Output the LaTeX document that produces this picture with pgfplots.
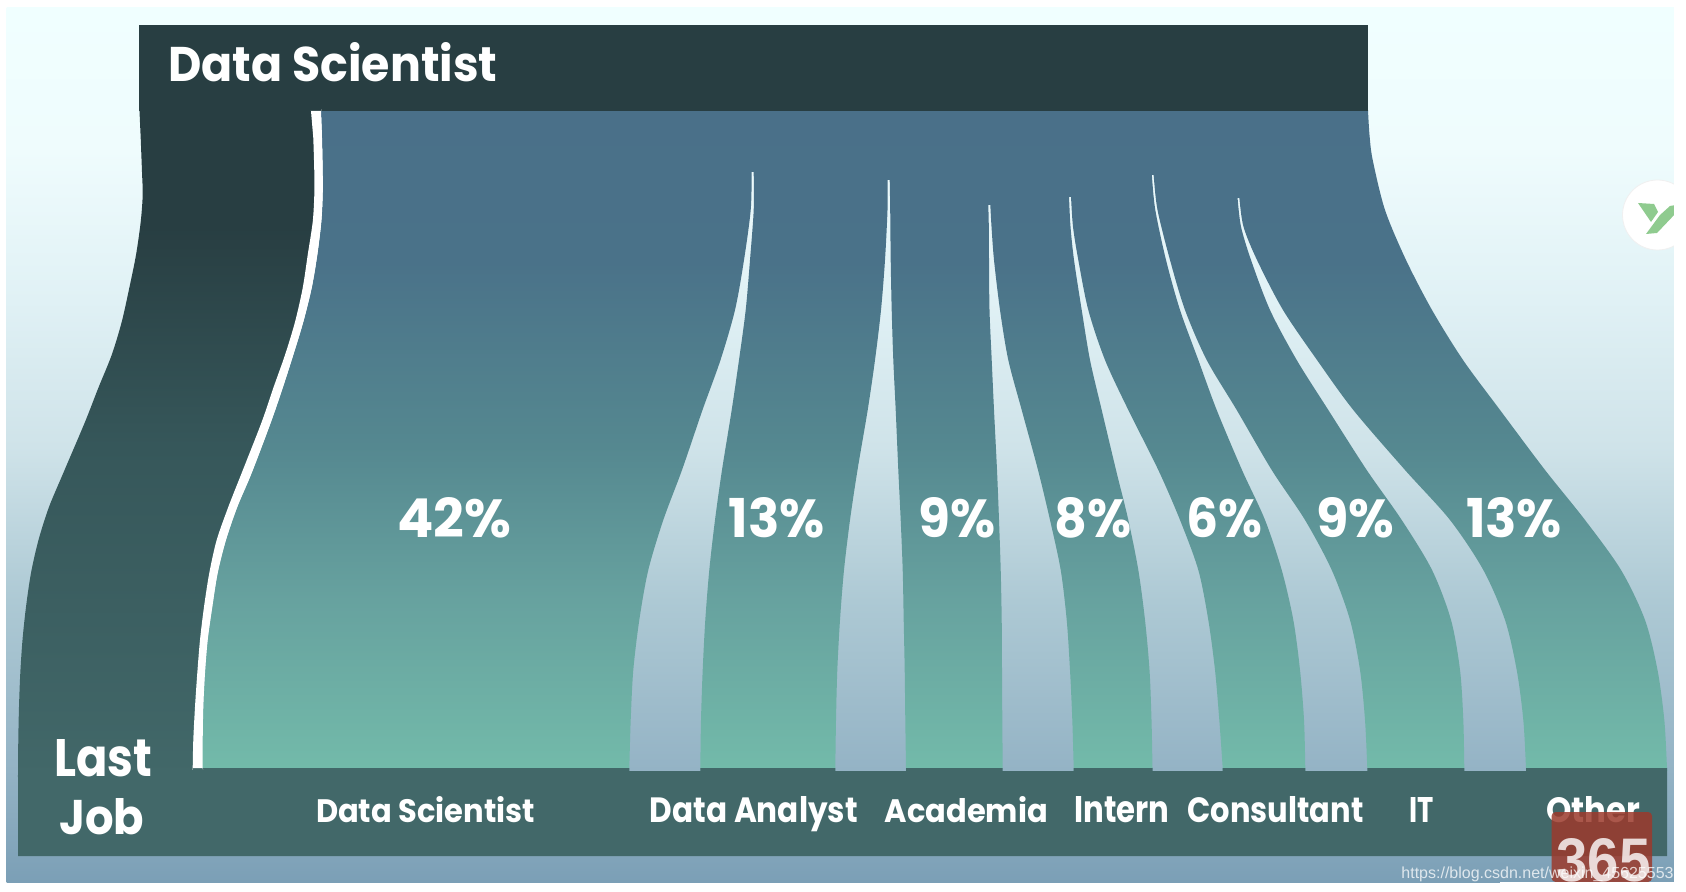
\documentclass[border=0pt]{standalone}
\usepackage{pgfplots}
\pgfplotsset{compat=1.18}
\usepackage{fontspec}
\setmainfont{Poppins}
\newfontfamily\urlfont{Liberation Sans}
\definecolor{bandtop}{HTML}{283E42}
\definecolor{bandlow}{HTML}{426869}
\definecolor{ygreen}{HTML}{8FCB8F}
\definecolor{wm}{HTML}{9C3A2C}
\definecolor{b0}{HTML}{7B9FB6}\definecolor{b1}{HTML}{94B3C5}\definecolor{b2}{HTML}{ADC9D4}
\definecolor{b3}{HTML}{CFE3E9}\definecolor{b4}{HTML}{E0F1F5}\definecolor{b5}{HTML}{EFFCFD}\definecolor{b6}{HTML}{F0FFFF}
\pgfdeclareverticalshading{bgshade}{100bp}{color(0bp)=(b0);color(25bp)=(b0);color(31.4bp)=(b1);color(41.1bp)=(b2);color(49.9bp)=(b3);color(58.3bp)=(b4);color(66.9bp)=(b5);color(75bp)=(b6);color(100bp)=(b6)}
\definecolor{m0}{HTML}{73BBAA}\definecolor{m1}{HTML}{67A29F}\definecolor{m2}{HTML}{558890}\definecolor{m3}{HTML}{4A7289}\definecolor{m4}{HTML}{4A7089}
\pgfdeclareverticalshading{mainshade}{100bp}{color(0bp)=(m0);color(25bp)=(m0);color(38.1bp)=(m1);color(49.6bp)=(m2);color(63.5bp)=(m3);color(75bp)=(m4);color(100bp)=(m4)}
\definecolor{d0}{HTML}{426869}\definecolor{d1}{HTML}{36575A}\definecolor{d2}{HTML}{283E42}
\pgfdeclareverticalshading{darkshade}{100bp}{color(0bp)=(d0);color(25bp)=(d0);color(49.4bp)=(d1);color(65.4bp)=(d2);color(75bp)=(d2);color(100bp)=(d2)}
\newcommand{\lab}[5]{\node[anchor=base west,inner sep=0pt,text=white] at (axis cs:#1,#2) {\resizebox{#3pt}{#4pt}{\bfseries #5}};}
\begin{document}
\begin{tikzpicture}
\path[use as bounding box,clip] (0,0) rectangle (843pt,446pt);
\begin{axis}[hide axis,scale only axis,width=843pt,height=446pt,xmin=0,xmax=1686,ymin=0,ymax=892,y dir=reverse,clip=false,tension=0.5]
% background
\addplot[draw=none,shading=bgshade,shade] coordinates {(6.5,8)(1674,8)(1674,882)(6.5,882)} --cycle;
% dark last-job flow
\addplot[draw=none,shading=darkshade,shade,smooth] coordinates {
(139,100)(139,100)(141,100)(150,100)(230,100)(305,100)(314,100)(316,100)(316,100)(318,138)(318.5,172)(318.5,195)(317,222)(312.5,255)(307,288)(299,322)(289,355)(278,388)(266,422)(246.7,473)(232.8,507)(221.3,540)(213.5,573)(208,607)(203.8,640)(201,673)(199,707)(198,740)(197.7,768)(197.7,775)(197.7,775)(190,775)(100,775)(30,775)(22,775)(19,775)(18,775)(18,775)(18.3,740)(19,707)(20.3,673)(22.5,640)(26,607)(31,573)(38.5,540)(49,507)(63.3,473)(85,422)(98.3,388)(111.7,355)(121.7,322)(129.3,288)(136,255)(140.7,222)(142.7,195)(142,172)(140.7,138)} --cycle;
% main destination flow, wedges are gaps showing the background
\addplot[draw=none,shading=mainshade,shade,smooth] coordinates {
(321,111)(321,111)(322,111)(325,111)(335,111)(370,111)(500,111)(900,111)(1240,111)(1355,111)(1365,111)(1367,111)(1368,111)(1368,111)(1369.5,135)(1372.7,160)(1385,210)(1406,260)(1432,310)(1463,360)(1500,410)(1545,470)(1585,520)(1621,570)(1645,620)(1657.5,670)(1664.3,720)(1667,768)(1667,768)(1665,768)(1652,768)(1600,768)(1540,768)(1528,768)(1526,768)(1526,768)
(1523.3,720)(1516.7,670)(1505,620)(1483.3,570)(1450,520)(1405,470)(1353.3,410)(1317,360)(1283,310)(1257,260)(1243.5,226.7)(1239.3,198)(1239.3,198)(1237.5,198)(1237.5,198)(1241,226.7)(1251,260)(1270,310)(1296.7,360)(1328.3,410)(1366.7,470)(1401.7,520)(1432,570)(1451,620)(1460,670)(1463.3,720)(1464.3,768)(1464.3,768)(1462,768)(1450,768)(1380,768)(1369,768)(1367.3,768)(1367.3,768)
(1365,720)(1360,670)(1350,620)(1331.7,570)(1305,520)(1271.7,470)(1236.7,410)(1206.7,360)(1185,310)(1170,260)(1157.5,210)(1153.6,175)(1153.6,175)(1151.8,175)(1151.8,175)(1155.3,210)(1166,260)(1180,310)(1198.3,360)(1216.7,410)(1242,470)(1265,520)(1281.7,570)(1293.3,620)(1300,670)(1304,720)(1305.3,768)(1305.3,768)(1303,768)(1292,768)(1236,768)(1225,768)(1222.7,768)(1222.7,768)
(1219.3,720)(1215,670)(1208.3,620)(1198.3,570)(1180,520)(1158.3,470)(1128.3,410)(1105,360)(1088.3,310)(1078.3,260)(1073,226.7)(1071,197)(1071,197)(1069,197)(1069,197)(1070.5,226.7)(1074,260)(1081.7,310)(1090,360)(1101.7,410)(1116,470)(1128.3,520)(1138.3,570)(1145,620)(1149.5,670)(1151.5,720)(1152.5,768)(1152.5,768)(1150,768)(1140,768)(1085,768)(1076,768)(1073.7,768)(1073.7,768)
(1072.3,720)(1070,670)(1066.7,620)(1060.7,570)(1050,520)(1038,470)(1021.7,410)(1008.3,360)(1000,310)(994,260)(991.5,226.7)(990.3,205)(990.3,205)(988.3,205)(988.3,205)(988.8,226.7)(989,260)(989.5,310)(991.7,360)(994,410)(997,470)(999,520)(1000.7,570)(1001.7,620)(1002,670)(1002.3,720)(1002.7,768)(1002.7,768)(1001,768)(990,768)(920,768)(908,768)(906,768)(906,768)
(905.3,720)(904.7,670)(903.7,620)(902.7,570)(900.7,520)(898.3,470)(895.7,410)(893.3,360)(891.7,310)(890.7,260)(890.2,210)(889.7,180)(889.7,180)(887.7,180)(887.7,180)(887.5,210)(885,260)(881,310)(875,360)(867.7,410)(857.5,470)(850,520)(844,570)(840,620)(837.3,670)(836,720)(835.3,768)(835.3,768)(833,768)(820,768)(770,768)(715,768)(702,768)(700.3,768)(700.3,768)
(701,720)(702.7,670)(705.3,620)(709.3,570)(715,520)(722,470)(731.7,410)(739,360)(745.7,310)(750,260)(753.7,210)(753.7,172)(753.7,172)(751.7,172)(751.7,172)(750.7,210)(744,260)(735,310)(720.5,360)(702.5,410)(682,470)(663.3,520)(648.3,570)(639.3,620)(633.3,670)(630.7,720)(629.3,768)(629.3,768)(627,768)(615,768)(570,768)(400,768)(260,768)(215,768)(205,768)(202.7,768)(202.7,768)
(202.7,740)(203.3,707)(205,673)(207.7,640)(212.3,607)(217.7,573)(226,540)(237.3,507)(251.7,473)(271,422)(282.7,388)(293.3,355)(303.3,322)(311.7,288)(317.3,255)(321.3,222)(322.7,195)(322.7,172)(322,138)} --cycle;
% top band
\addplot[draw=none,fill=bandtop] coordinates {(139,25)(1368,25)(1368,111)(139,111)} --cycle;
% bottom band, with the small notches of the flows
\addplot[draw=none,fill=bandlow] coordinates {
(18,768)(629.3,768)(629.3,771)(700.3,771)(700.3,768)(835.3,768)(835.3,771)(906,771)(906,768)(1002.7,768)(1002.7,771)(1073.7,771)(1073.7,768)(1152.5,768)(1152.5,771)(1222.7,771)(1222.7,768)(1305.3,768)(1305.3,771)(1367.3,771)(1367.3,768)(1464.3,768)(1464.3,771)(1526,771)(1526,768)(1667,768)(1667,856)(18,856)} --cycle;
% white separator
\addplot[draw=none,fill=white,smooth] coordinates {(311,111)(311,111)(321,111)(321,111)(322,138)(322.7,172)(322.7,195)(321.3,222)(317.3,255)(311.7,288)(303.3,322)(293.3,355)(282.7,388)(271,422)(251.7,473)(237.3,507)(226,540)(217.7,573)(212.3,607)(207.7,640)(205,673)(203.3,707)(202.7,740)(202.7,768)(202.7,768)(192.7,768)(192.7,768)(193.3,740)(195,707)(197.3,673)(200,640)(204,607)(209.3,573)(216.7,540)(228.3,507)(241.7,473)(261.7,422)(273.3,388)(285,355)(295,322)(302.7,288)(307.7,255)(312.7,222)(314.3,195)(314.3,172)(313.3,138)} --cycle;
% texts
\lab{168}{82}{164.5}{19.5}{Data Scientist}
\lab{54}{776}{49}{18.5}{Last}
\lab{59}{834}{42.5}{18}{Job}
\lab{315.6}{822}{109.5}{13}{Data Scientist}
\lab{649.5}{822}{104}{13}{Data Analyst}
\lab{884.4}{822}{81.5}{13}{Academia}
\lab{1074}{822}{47.5}{13}{Intern}
\lab{1187}{822}{88}{13}{Consultant}
\lab{1408.6}{822}{12.2}{12.5}{IT}
\lab{1545.7}{822}{47}{13}{Other}
\lab{397}{538}{57}{20}{42\%}
\lab{728.5}{538}{48}{20}{13\%}
\lab{918}{538}{38.5}{20}{9\%}
\lab{1054}{538}{38.5}{20}{8\%}
\lab{1186}{538}{38}{20}{6\%}
\lab{1316}{538}{39}{20}{9\%}
\lab{1465.6}{538}{48}{20}{13\%}
% badge
\fill[fill=white,draw=black!6] (axis cs:1657.5,215) circle[radius=17.5pt];
\addplot[draw=none,fill=ygreen] coordinates {(1638,203)(1654,204)(1658,212)(1651,222)} --cycle;
\addplot[draw=none,fill=ygreen] coordinates {(1676,205)(1676,213)(1657,233)(1646,234)(1660,215)(1670,206)} --cycle;
% watermark
\fill[rounded corners=2pt,fill=wm,opacity=0.85] (axis cs:1551.6,812) rectangle (axis cs:1652,882);
\node[anchor=base west,inner sep=0pt,text=white,opacity=.8] at (axis cs:1556,881) {\resizebox{47pt}{21.5pt}{\bfseries\urlfont 365}};
\fill[white] (axis cs:1500,882) rectangle (axis cs:1686,892);
\fill[white] (axis cs:1674,0) rectangle (axis cs:1686,892);
\node[anchor=base east,inner sep=0pt,text=white,opacity=.75] at (axis cs:1674,878) {\urlfont\fontsize{8}{10}\selectfont https://blog.csdn.net/weixin\_45625553};
\end{axis}
\end{tikzpicture}
\end{document}
